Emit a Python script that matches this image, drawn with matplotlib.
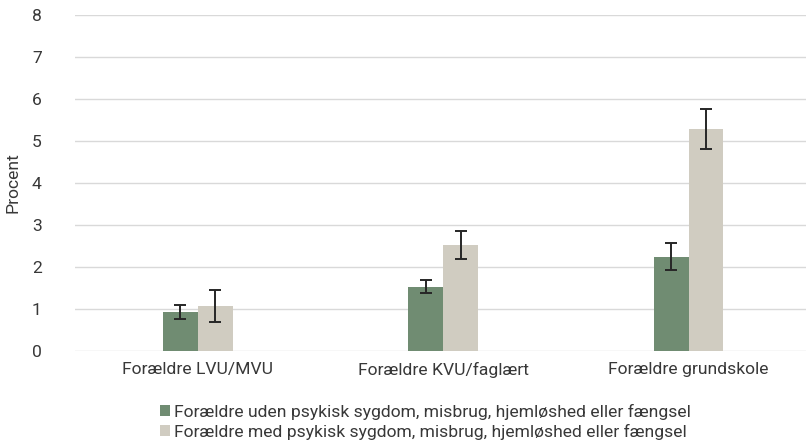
import matplotlib.pyplot as plt
import numpy as np

plt.rcParams['font.family'] = ['Roboto', 'DejaVu Sans']

categories = ['Forældre LVU/MVU', 'Forældre KVU/faglært', 'Forældre grundskole']
series_names = ['Forældre uden psykisk sygdom, misbrug, hjemløshed eller fængsel',
                'Forældre med psykisk sygdom, misbrug, hjemløshed eller fængsel']

uden = [0.92, 1.53, 2.25]
uden_lo = [0.77, 1.39, 1.92]
uden_hi = [1.09, 1.68, 2.57]

med = [1.08, 2.52, 5.28]
med_lo = [0.70, 2.18, 4.81]
med_hi = [1.45, 2.86, 5.76]

colors = ['#708c72', '#d0ccc1']
text_col = '#383838'
fs = 12.6

fig = plt.figure(figsize=(8.07, 4.48), dpi=100)
ax = fig.add_axes([0.093, 0.2165, 0.906, 0.75])

x = np.arange(len(categories))
w = 0.142
for vals, lo, hi, off, c, name in [(uden, uden_lo, uden_hi, -w / 2, colors[0], series_names[0]),
                                   (med, med_lo, med_hi, w / 2, colors[1], series_names[1])]:
    vals = np.array(vals)
    yerr = [vals - np.array(lo), np.array(hi) - vals]
    ax.bar(x + off, vals, w, color=c, label=name, zorder=2)
    ax.errorbar(x + off, vals, yerr=yerr, fmt='none', ecolor='#262626',
                elinewidth=1.4, capsize=4, capthick=1.4, zorder=3)

ax.set_xlim(-0.5, 2.479)
ax.set_ylim(0, 8)
ax.set_yticks(range(0, 9))
ax.set_xticks(x)
ax.set_xticklabels(categories)
ax.yaxis.grid(True, color='#d9d9d9', linewidth=1)
ax.set_axisbelow(True)
for s in ax.spines.values():
    s.set_visible(False)
ax.tick_params(length=0, labelsize=fs, labelcolor=text_col)
ax.tick_params(axis='y', pad=24)
ax.tick_params(axis='x', pad=8)
ax.set_ylabel('Procent', fontsize=fs, color=text_col, labelpad=8)

fig.legend(loc='center', bbox_to_anchor=(0.527, 0.058), ncol=1, frameon=False,
           fontsize=fs, handlelength=0.6, handleheight=0.6,
           handletextpad=0.2, labelspacing=0.22, labelcolor=text_col)

fig.savefig('out.png', dpi=100)
